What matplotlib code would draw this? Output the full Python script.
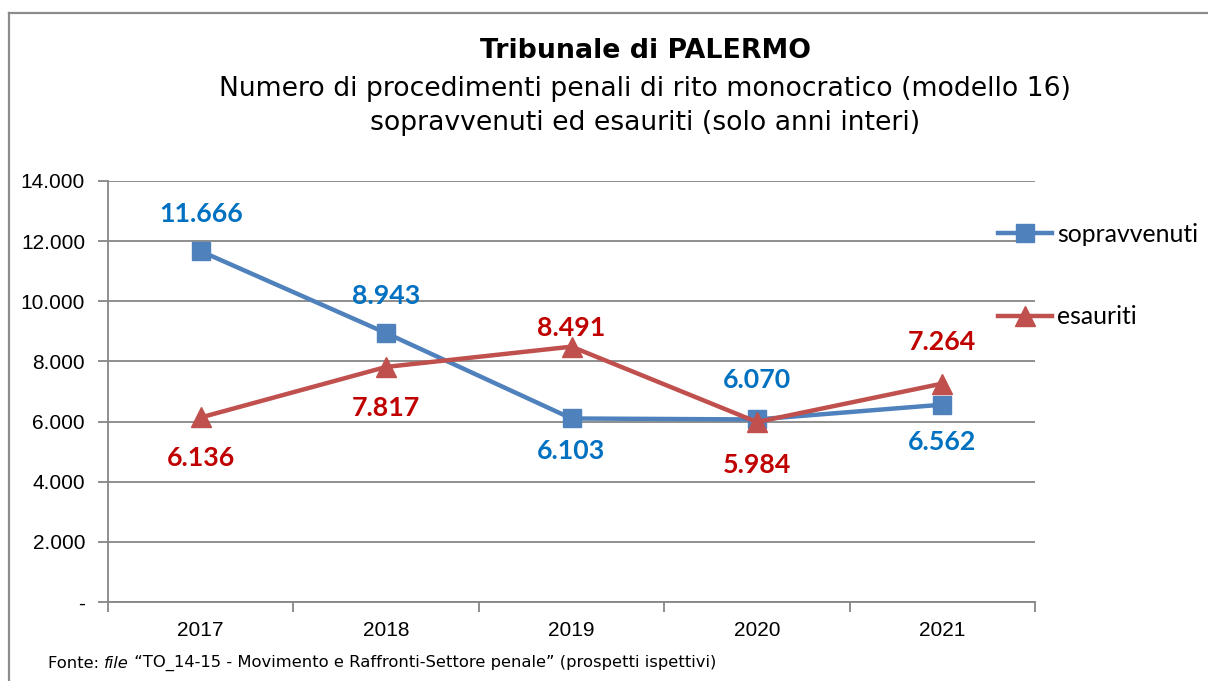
import matplotlib
matplotlib.use("Agg")
import matplotlib.pyplot as plt
from matplotlib.lines import Line2D
from matplotlib.ticker import FixedLocator, FuncFormatter

anni = ["2017", "2018", "2019", "2020", "2021"]
sopravvenuti = [11666, 8943, 6103, 6070, 6562]
esauriti = [6136, 7817, 8491, 5984, 7264]
# label offsets in pixels (negative = above the point)
off_sopr = [-37, -37, 33, -39, 37]
off_esau = [41, 41, -19, 43, -42]

BLUE = "#4F81BD"
RED = "#C0504D"
BLUE_TXT = "#0070C0"
RED_TXT = "#C00000"
GRID = "#868686"

W, H = 1208, 681
fig = plt.figure(figsize=(W / 100, H / 100), dpi=100)
fig.patch.set_facecolor("white")

# outer border (left and top only visible)
fig.add_artist(Line2D([9 / W, 9 / W], [0, 1 - 13 / H], transform=fig.transFigure,
                      color="#8c8c8c", lw=1.6))
fig.add_artist(Line2D([9 / W, 1], [1 - 13 / H, 1 - 13 / H], transform=fig.transFigure,
                      color="#8c8c8c", lw=1.6))

left, right, top, bottom = 108, 1035, 181, 602
ax = fig.add_axes([left / W, 1 - bottom / H, (right - left) / W, (bottom - top) / H])

x = list(range(len(anni)))
ax.plot(x, sopravvenuti, color=BLUE, lw=3.2, marker="s", markersize=13,
        label="sopravvenuti", zorder=3)
ax.plot(x, esauriti, color=RED, lw=3.2, marker="^", markersize=14,
        label="esauriti", zorder=3)

ax.set_xlim(-0.5, len(anni) - 0.5)
ax.set_ylim(0, 14000)
ax.yaxis.set_major_locator(FixedLocator(range(0, 14001, 2000)))
ax.yaxis.set_major_formatter(FuncFormatter(
    lambda v, p: "-" if v == 0 else "{:,.0f}".format(v).replace(",", ".")))
ax.grid(axis="y", color=GRID, lw=1.3)
ax.set_axisbelow(True)

ax.set_xticks([i - 0.5 for i in range(len(anni) + 1)])
ax.set_xticklabels([])
ax.set_xticks(x, minor=True)
ax.set_xticklabels(anni, minor=True)
ax.tick_params(axis="x", which="minor", length=0, pad=14, labelsize=15)
ax.tick_params(axis="x", which="major", length=7, color=GRID, width=1.3)
ax.tick_params(axis="y", length=7, color=GRID, width=1.3, labelsize=15, pad=9.5)
for lab in ax.get_xticklabels(minor=True) + ax.get_yticklabels():
    lab.set_fontfamily("Liberation Sans")

for s in ["top", "right"]:
    ax.spines[s].set_visible(False)
for s in ["left", "bottom"]:
    ax.spines[s].set_color(GRID)
    ax.spines[s].set_linewidth(1.3)

px2pt = 72 / 100
for vals, offs, col in [(sopravvenuti, off_sopr, BLUE_TXT), (esauriti, off_esau, RED_TXT)]:
    for i, (v, o) in enumerate(zip(vals, offs)):
        ax.annotate("{:,.0f}".format(v).replace(",", "."), (i, v),
                    xytext=(0, -o * px2pt), textcoords="offset points",
                    ha="center", va="center", color=col, fontsize=19.3,
                    fontweight="bold", family="Lato", zorder=4)

leg = fig.legend(loc="upper left", bbox_to_anchor=(998 / W, 1 - 223 / H),
                 frameon=False, prop={"family": "Lato", "size": 17.8},
                 handlelength=2.2, handletextpad=0.2, labelspacing=2.4,
                 borderpad=0, borderaxespad=0)

# titles
fig.text(645 / W, 1 - 51 / H, "Tribunale di PALERMO", ha="center", va="center",
         fontsize=19.3, fontweight="bold", family="DejaVu Sans")
fig.text(645 / W, 1 - 106 / H,
         "Numero di procedimenti penali di rito monocratico (modello 16)\n"
         "sopravvenuti ed esauriti (solo anni interi)",
         ha="center", va="center", fontsize=19.2, family="DejaVu Sans",
         linespacing=1.36)

# footer
t1 = fig.text(48 / W, 1 - 663 / H, "Fonte: ", ha="left", va="center",
              fontsize=11.8, family="DejaVu Sans")
an1 = ax.annotate("file", xy=(1, 0.5), xycoords=t1, va="center", ha="left",
                  fontsize=11.8, family="DejaVu Sans", style="italic",
                  annotation_clip=False)
ax.annotate(" \u201cTO_14-15 - Movimento e Raffronti-Settore penale\u201d (prospetti ispettivi)",
            xy=(1, 0.5), xycoords=an1, va="center", ha="left",
            fontsize=11.8, family="DejaVu Sans", annotation_clip=False)

fig.savefig("out.png", dpi=100)
